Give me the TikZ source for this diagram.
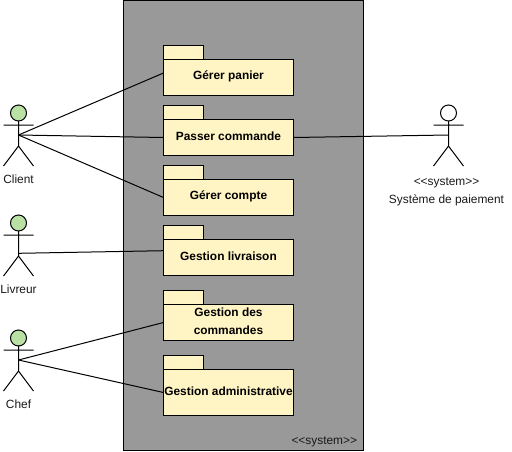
\documentclass[tikz,border=0pt]{standalone}
\usepackage{fontspec}
\setmainfont{Liberation Sans}
\definecolor{pkgfill}{HTML}{FFF4C3}
\definecolor{actorfill}{HTML}{B9E0A5}
\definecolor{sysfill}{HTML}{999999}
\newcommand{\lblfont}{\fontsize{11.9}{14}\selectfont}
\tikzset{
  every node/.style={inner sep=0pt,outer sep=0pt},
  sysbox/.style={draw=black,fill=sysfill,line width=1pt,rectangle},
  pkgtab/.style={draw=black,fill=pkgfill,line width=1pt,rectangle,minimum width=40pt,minimum height=14pt},
  pkgbody/.style={draw=black,fill=pkgfill,line width=1pt,rectangle,minimum width=130pt},
  pkgtext/.style={font=\fontsize{11.9}{18}\selectfont\bfseries,text=black,align=center,anchor=center},
  conn/.style={draw=black,line width=1pt},
  lim/.style={draw=black,line width=1pt},
  lbl/.style={text=black!90,anchor=center,font=\lblfont}
}
\newcommand{\stickman}[4]{% name, x, top y, head colour
  \node[circle,draw=black,fill=#4,line width=1pt,minimum size=16pt] (#1head) at (#2,#3+8) {};
  \coordinate (#1hand) at (#2,#3+30);
  \coordinate (#1neck) at (#2,#3+16);
  \coordinate (#1hip) at (#2,#3+41);
  \coordinate (#1larm) at (#2-15,#3+20);
  \coordinate (#1rarm) at (#2+15,#3+20);
  \coordinate (#1lleg) at (#2-15,#3+61);
  \coordinate (#1rleg) at (#2+15,#3+61);
  \draw[lim] (#1neck) -- (#1hip) (#1larm) -- (#1rarm) (#1hip) -- (#1lleg) (#1hip) -- (#1rleg);
}
\begin{document}
\begin{tikzpicture}[x=1pt,y=-1pt]
\useasboundingbox (0,0) rectangle (512,451);
\node[sysbox,minimum width=240pt,minimum height=450pt,anchor=north west] (sys) at (123.5,0.5) {};
\node[lbl,anchor=east] (syslabel) at (357,441.5) {<{}<system>{}>};

\node[pkgtab,anchor=north west] (t1) at (163.5,45.5) {};
\node[pkgbody,minimum height=36pt,anchor=north west] (p1) at (163.5,59.5) {};
\node[pkgtext] (p1text) at (228.5,76) {Gérer panier};
\node[pkgtab,anchor=north west] (t2) at (163.5,105.5) {};
\node[pkgbody,minimum height=36pt,anchor=north west] (p2) at (163.5,119.5) {};
\node[pkgtext] (p2text) at (228.5,136) {Passer commande};
\node[pkgtab,anchor=north west] (t3) at (163.5,165.5) {};
\node[pkgbody,minimum height=36pt,anchor=north west] (p3) at (163.5,179.5) {};
\node[pkgtext] (p3text) at (228.5,196) {Gérer compte};
\node[pkgtab,anchor=north west] (t4) at (163.5,225.5) {};
\node[pkgbody,minimum height=36pt,anchor=north west] (p4) at (163.5,239.5) {};
\node[pkgtext] (p4text) at (228.5,256) {Gestion livraison};
\node[pkgtab,anchor=north west] (t5) at (163.5,290.5) {};
\node[pkgbody,minimum height=36pt,anchor=north west] (p5) at (163.5,304.5) {};
\node[pkgtext] (p5text) at (228.5,321) {Gestion des\\commandes};
\node[pkgtab,anchor=north west] (t6) at (163.5,355.5) {};
\node[pkgbody,minimum height=46pt,anchor=north west] (p6) at (163.5,369.5) {};
\node[pkgtext] (p6text) at (228.5,391) {Gestion administrative};

\stickman{client}{18.5}{105}{actorfill}
\stickman{livreur}{18.5}{215}{actorfill}
\stickman{chef}{18.5}{330}{actorfill}
\stickman{pay}{448.5}{105}{white}

\node[lbl] (clientlabel) at (18.5,179) {Client};
\node[lbl] (livreurlabel) at (18.5,289) {Livreur};
\node[lbl] (cheflabel) at (18.5,404) {Chef};
\node[lbl] (paylabel1) at (446.5,182.5) {<{}<system>{}>};
\node[lbl] (paylabel2) at (446.5,200) {Système de paiement};

\coordinate (p1in) at (163.5,73);
\coordinate (p4in) at (163.5,250.7);
\coordinate (livreurline) at (18.5,253.3);
\draw[conn] (clienthand) -- (p1in);
\draw[conn] (clienthand) -- (p2.west);
\draw[conn] (clienthand) -- (p3.west);
\draw[conn] (livreurline) -- (p4in);
\draw[conn] (chefhand) -- (p5.west);
\draw[conn] (chefhand) -- (p6.west);
\draw[conn] (p2.east) -- (payhand);
\end{tikzpicture}
\end{document}
